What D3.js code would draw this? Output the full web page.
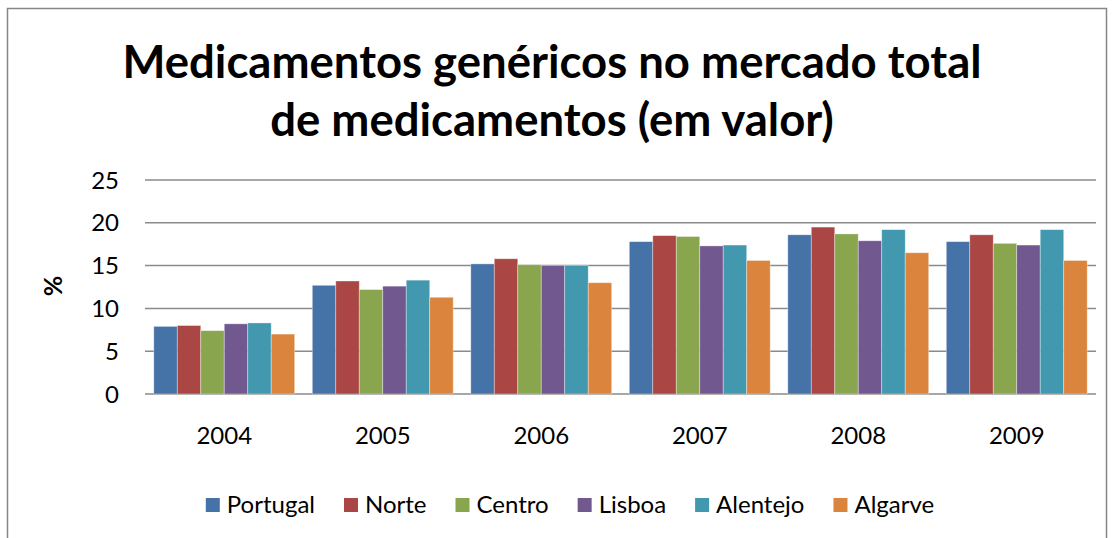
<!DOCTYPE html>
<html lang="pt">
<head>
    <meta charset="UTF-8">
    <title>Medicamentos genéricos</title>
    <script src="https://d3js.org/d3.v7.min.js"></script>
    <style>
        body {margin: 0; background: white;}
        text {font-family: Lato, "Open Sans", sans-serif; fill: #000;}
    </style>
</head>
<body>
<script>
    const width = 1113;
    const height = 538;

    const years   = ["2004", "2005", "2006", "2007", "2008", "2009"];
    const regions = ["Portugal", "Norte", "Centro", "Lisboa", "Alentejo", "Algarve"];
    const colors  = ["#4572A7", "#AA4643", "#89A54E", "#71588F", "#4198AF", "#DB843D"];

    // % per region, one array per year (same order as regions)
    const v2004 = [7.9, 8.0, 7.4, 8.2, 8.3, 7.0];
    const v2005 = [12.7, 13.2, 12.2, 12.6, 13.3, 11.3];
    const v2006 = [15.2, 15.8, 15.1, 15.0, 15.0, 13.0];
    const v2007 = [17.8, 18.5, 18.4, 17.3, 17.4, 15.6];
    const v2008 = [18.6, 19.5, 18.7, 17.9, 19.2, 16.5];
    const v2009 = [17.8, 18.6, 17.6, 17.4, 19.2, 15.6];
    const yTicks = [0, 5, 10, 15, 20, 25];

    const values = [v2004, v2005, v2006, v2007, v2008, v2009];

    const plot = {left: 145, right: 1096, top: 180, bottom: 394};

    const svg = d3.select("body").append("svg")
            .attr("width", width).attr("height", height);

    // outer chart border
    svg.append("rect")
            .attr("x", 7.5).attr("y", 8.5)
            .attr("width", 1099).attr("height", 540)
            .style("fill", "none")
            .style("stroke", "#868686")
            .style("stroke-width", 1.5);

    // title
    const title = svg.append("text")
            .attr("text-anchor", "middle")
            .style("font-size", "45.5px")
            .style("font-weight", "bold");
    title.append("tspan").attr("x", 552).attr("y", 78)
            .text("Medicamentos genéricos no mercado total");
    title.append("tspan").attr("x", 552).attr("y", 136)
            .text("de medicamentos (em valor)");

    const x = d3.scaleBand()
            .domain(years)
            .range([plot.left, plot.right])
            .paddingInner(0.111)
            .paddingOuter(0.0555);

    const xSub = d3.scaleBand()
            .domain(regions)
            .range([0, x.bandwidth()]);

    const y = d3.scaleLinear()
            .domain([0, 25])
            .range([plot.bottom, plot.top]);

    // gridlines
    svg.selectAll("line.grid")
            .data(yTicks)
            .enter()
            .append("line")
            .attr("class", "grid")
            .attr("x1", plot.left).attr("x2", plot.right)
            .attr("y1", d => y(d)).attr("y2", d => y(d))
            .style("stroke", "#8a8a8a")
            .style("stroke-width", 1.5);

    // y tick labels
    svg.selectAll("text.ytick")
            .data(yTicks)
            .enter()
            .append("text")
            .attr("class", "ytick")
            .attr("x", 119)
            .attr("y", d => y(d))
            .attr("dy", "0.36em")
            .attr("text-anchor", "end")
            .style("font-size", "24px")
            .text(d => d);

    // y axis title
    svg.append("text")
            .attr("transform", "translate(62,286) rotate(-90)")
            .attr("text-anchor", "middle")
            .style("font-size", "25px")
            .style("font-weight", "bold")
            .text("%");

    // bars
    const groups = svg.selectAll("g.year")
            .data(years)
            .enter()
            .append("g")
            .attr("class", "year")
            .attr("transform", d => `translate(${x(d)},0)`);

    groups.selectAll("rect")
            .data((d, i) => values[i].map((v, j) => ({region: regions[j], value: v, color: colors[j]})))
            .enter()
            .append("rect")
            .attr("x", d => xSub(d.region))
            .attr("width", xSub.bandwidth())
            .attr("y", d => y(d.value))
            .attr("height", d => y(0) - y(d.value))
            .style("fill", d => d.color)
            .style("stroke", "rgba(255,255,255,0.45)")
            .style("stroke-width", 0.8);

    // x labels
    svg.selectAll("text.xtick")
            .data(years)
            .enter()
            .append("text")
            .attr("class", "xtick")
            .attr("x", d => x(d) + x.bandwidth() / 2)
            .attr("y", 444)
            .attr("text-anchor", "middle")
            .style("font-size", "24px")
            .text(d => d);

    // legend
    const legend = svg.append("g");
    let lx = 0;
    regions.forEach(function(r, i) {
        const item = legend.append("g").attr("transform", `translate(${lx},0)`);
        item.append("rect")
                .attr("x", 0).attr("y", 498)
                .attr("width", 14).attr("height", 14)
                .style("fill", colors[i]);
        const t = item.append("text")
                .attr("x", 21).attr("y", 513)
                .style("font-size", "24px")
                .text(r);
        lx += 21 + t.node().getComputedTextLength() + 29;
    });
    const legendWidth = lx - 29;
    legend.attr("transform", `translate(${570 - legendWidth / 2},0)`);
</script>
</body>
</html>
